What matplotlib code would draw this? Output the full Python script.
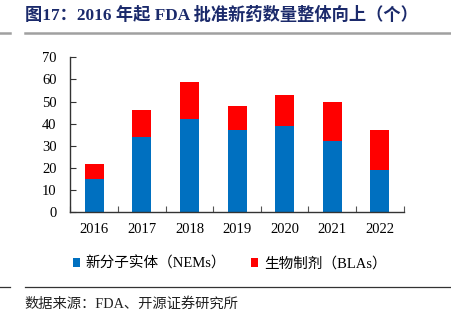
import matplotlib.pyplot as plt
from matplotlib.lines import Line2D
import numpy as np

plt.rcParams['font.family'] = ['Liberation Serif', 'Noto Sans CJK SC']

years = ['2016', '2017', '2018', '2019', '2020', '2021', '2022']
nems = [15, 34, 42, 37, 39, 32, 19]   # 新分子实体
blas = [7, 12, 17, 11, 14, 18, 18]    # 生物制剂

blue = '#0070C0'
red = '#FF0000'

fig = plt.figure(figsize=(4.51, 3.23), dpi=100)
ax = fig.add_axes([0.1563, 0.3427, 0.7387, 0.48])

x = np.arange(len(years))
ax.bar(x, nems, width=0.4, color=blue, label='新分子实体（NEMs）')
ax.bar(x, blas, width=0.4, bottom=nems, color=red, label='生物制剂（BLAs）')

ax.set_xlim(-0.5, len(years) - 0.5)
ax.set_ylim(0, 70)
ax.set_yticks(range(0, 71, 10))
ax.set_xticks(x)
ax.set_xticklabels(years)
ax.set_xticks(np.arange(-0.5, len(years), 1), minor=True)

for s in ['top', 'right']:
    ax.spines[s].set_visible(False)
for s in ['left', 'bottom']:
    ax.spines[s].set_color('#333333')
    ax.spines[s].set_linewidth(1.0)

ax.tick_params(axis='y', direction='in', length=4, width=0.8, color='#333333',
               labelsize=10.5, pad=10)
ax.tick_params(axis='x', which='major', length=0, labelsize=10.5, pad=8)
ax.tick_params(axis='x', which='minor', direction='in', length=4, width=0.8, color='#555555')

ax.legend(loc='upper center', bbox_to_anchor=(0.478, -0.20), ncol=2, frameon=False,
          fontsize=10.5, handlelength=0.5, handleheight=0.5, handletextpad=0.4,
          columnspacing=1.7)

# title and rules
fig.text(0.055, 0.953, '图17：2016 年起 FDA 批准新药数量整体向上（个）', fontsize=12.4,
         fontweight='bold', color='#1B2A6B', va='center', ha='left')
fig.add_artist(Line2D([0.055, 1.0], [0.898, 0.898], color='#A0A0A0', linewidth=1.8))
fig.add_artist(Line2D([0.0, 0.022], [0.898, 0.898], color='#A0A0A0', linewidth=1.8))
fig.add_artist(Line2D([0.055, 1.0], [0.111, 0.111], color='#333333', linewidth=0.9))
fig.add_artist(Line2D([0.0, 0.022], [0.111, 0.111], color='#333333', linewidth=0.9))

fig.text(0.055, 0.059, '数据来源：FDA、开源证券研究所', fontsize=10.3, color='#222222',
         va='center', ha='left')

fig.savefig('out.png', dpi=100)
